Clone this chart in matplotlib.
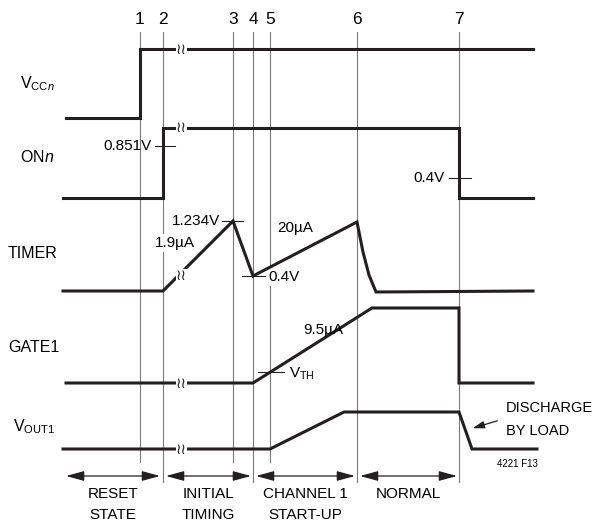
import matplotlib
matplotlib.use('Agg')
from matplotlib import pyplot as plt
from matplotlib.patches import FancyArrowPatch

FONT = ['Liberation Sans', 'DejaVu Sans']
plt.rcParams['font.family'] = FONT
plt.rcParams['mathtext.fontset'] = 'custom'
plt.rcParams['mathtext.rm'] = 'Liberation Sans'
plt.rcParams['mathtext.it'] = 'Liberation Sans:italic'

# event markers (time axis, drawing units)
event_labels = ['1', '2', '3', '4', '5', '6', '7']
event_t = [140, 163, 233, 253, 270, 357, 459]
event_long = [False, True, False, True, False, True, True]

# waveforms: time points and levels (drawing units, y grows downward)
vcc_t = [66, 140, 140, 533]
vcc_v = [118, 118, 49, 49]
on_t = [63, 163, 163, 459, 459, 533]
on_v = [198, 198, 128, 128, 198, 198]
timer_t = [63, 163, 233, 253, 357, 363, 369, 376, 533]
timer_v = [291, 291, 221, 276, 222, 252, 275, 292, 291]
gate_t = [66, 253, 372, 459, 459, 533]
gate_v = [383, 383, 308, 308, 383, 383]
vout_t = [63, 270, 344, 459, 472, 537]
vout_v = [449, 449, 412, 412, 449, 449]

signal_names = [r'V$_{\mathrm{CC}\mathit{n}}$', r'ON$\mathit{n}$', 'TIMER', 'GATE1',
                r'V$_{\mathrm{OUT1}}$']
signal_name_x = [20, 20, 8, 8, 13]
signal_name_y = [84, 157, 253, 348, 427]

# break marks on the traces
break_x = [181, 181, 181, 181, 181]
break_y = [49, 128, 276, 383, 449]

# phases at the bottom
phase_labels = ['RESET\nSTATE', 'INITIAL\nTIMING', 'CHANNEL 1\nSTART-UP', 'NORMAL']
phase_start = [66, 166, 256, 360]
phase_end = [160, 251, 355, 457]

fig = plt.figure(figsize=(5.97, 5.25), dpi=100)
ax = fig.add_axes([0, 0, 1, 1])
ax.set_xlim(0, 597)
ax.set_ylim(525, 0)
ax.axis('off')

ink = '#231f20'
white = dict(boxstyle='square,pad=0.1', fc='white', ec='none')

# event lines
for lab, t, lng in zip(event_labels, event_t, event_long):
    ax.plot([t, t], [32, 482 if lng else 462], color='#7a7a7a', lw=0.8, zorder=1)
    ax.text(t, 20, lab, ha='center', va='center', fontsize=12.5)

# traces
for tt, vv in [(vcc_t, vcc_v), (on_t, on_v), (timer_t, timer_v),
               (gate_t, gate_v), (vout_t, vout_v)]:
    ax.plot(tt, vv, color=ink, lw=2.2, solid_joinstyle='miter', zorder=3)

for name, x, y in zip(signal_names, signal_name_x, signal_name_y):
    ax.text(x, y, name, ha='left', va='center', fontsize=11.5)

for x, y in zip(break_x, break_y):
    ax.text(x, y, '\u2240\u2240', ha='center', va='center', fontsize=10.5,
            family=['DejaVu Sans'], zorder=4, color=ink,
            bbox=dict(boxstyle='square,pad=0.0', fc='white', ec='none'))

# threshold ticks and annotations
ticks = [(155, 175, 146), (449, 471, 178), (222, 243, 221), (242, 265, 276), (258, 284, 372)]
for x0, x1, y in ticks:
    ax.plot([x0, x1], [y, y], color=ink, lw=0.8, zorder=2)

fs = 11
ax.text(152, 146, '0.851V', ha='right', va='center', fontsize=fs)
ax.text(445, 178, '0.4V', ha='right', va='center', fontsize=fs)
ax.text(220, 221, '1.234V', ha='right', va='center', fontsize=fs, bbox=white, zorder=2)
ax.text(155, 243, '1.9\u00b5A', ha='left', va='center', fontsize=fs, bbox=white, zorder=2)
ax.text(268, 277, '0.4V', ha='left', va='center', fontsize=fs, bbox=white, zorder=2)
ax.text(277, 228, '20\u00b5A', ha='left', va='center', fontsize=fs)
ax.text(303, 330, '9.5\u00b5A', ha='left', va='center', fontsize=fs)
ax.text(289, 374, r'V$_{\mathrm{TH}}$', ha='left', va='center', fontsize=fs)

ax.text(506, 408, 'DISCHARGE', ha='left', va='center', fontsize=10.5)
ax.text(506, 431, 'BY LOAD', ha='left', va='center', fontsize=10.5)
ax.annotate('', xy=(470, 429), xytext=(500, 420),
            arrowprops=dict(arrowstyle='-|>,head_length=0.7,head_width=0.22',
                            color=ink, lw=0.9))
ax.text(517, 464, '4221 F13', ha='center', va='center', fontsize=7)

# phase arrows
for lab, x0, x1 in zip(phase_labels, phase_start, phase_end):
    arr = FancyArrowPatch((x0, 476), (x1, 476),
                          arrowstyle='<|-|>,head_length=11,head_width=3',
                          color=ink, lw=0.9, shrinkA=0, shrinkB=0,
                          mutation_scale=1)
    ax.add_patch(arr)
    ax.text((x0 + x1) / 2, 487, lab, ha='center', va='top',
            fontsize=11, linespacing=1.65)

plt.savefig('out.png', dpi=100)
